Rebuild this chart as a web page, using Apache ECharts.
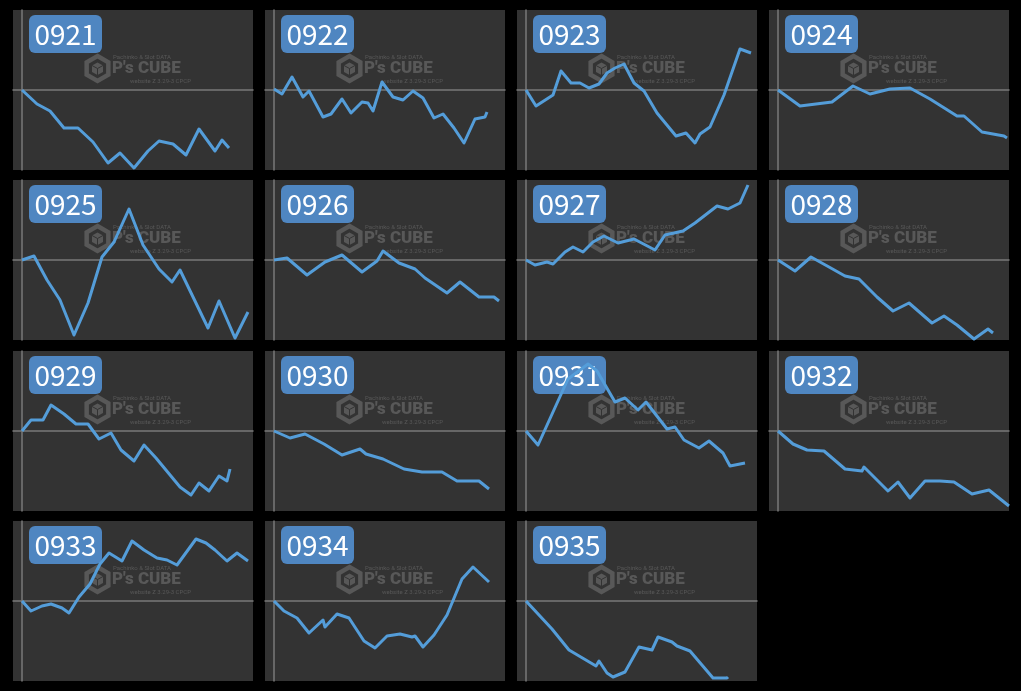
<!DOCTYPE html>
<html>
<head>
<meta charset="utf-8">
<script src="https://cdn.jsdelivr.net/npm/echarts@6/dist/echarts.min.js"></script>
<style>
html,body{margin:0;padding:0;background:#000;}
#chart{width:1021px;height:691px;}
</style>
</head>
<body>
<div id="chart"></div>
<script>
// Machine numbers (panel titles)
const machines = ['0921','0922','0923','0924','0925','0926','0927','0928','0929','0930','0931','0932','0933','0934','0935'];

// Series: [games (scaled), coin difference (scaled)]
const s0921 = [[0,0],[15,-14],[28,-21],[42,-38],[56,-38],[71,-52],[86,-73],[98,-63],[112,-78],[126,-61],[137,-51],[151,-54],[164,-65],[177,-39],[193,-61],[200,-50],[207,-58]];
const s0922 = [[0,1],[8,-4],[18,13],[29,-7],[35,-1],[49,-27],[57,-24],[68,-9],[77,-23],[88,-12],[94,-13],[99,-21],[108,8],[119,-7],[129,-10],[139,-1],[149,-8],[160,-28],[169,-24],[180,-38],[190,-53],[201,-29],[211,-27],[213,-22]];
const s0923 = [[0,0],[10,-16],[27,-5],[35,19],[45,7],[54,7],[63,2],[73,6],[81,17],[89,22],[98,26],[108,7],[118,-1],[131,-23],[150,-46],[160,-43],[169,-53],[174,-44],[184,-37],[198,-5],[206,18],[214,41],[225,37]];
const s0924 = [[0,0],[22,-16],[46,-13],[54,-12],[75,4],[92,-4],[112,1],[132,2],[152,-9],[179,-26],[186,-26],[204,-42],[226,-46],[229,-48]];
const s0925 = [[0,0],[12,4],[25,-20],[38,-40],[52,-75],[66,-43],[80,3],[92,18],[107,51],[121,15],[137,-9],[150,-22],[158,-10],[186,-68],[197,-41],[213,-78],[226,-52]];
const s0926 = [[0,0],[13,2],[33,-15],[51,-2],[68,5],[88,-12],[103,-1],[109,9],[125,-3],[141,-9],[151,-18],[173,-33],[186,-22],[205,-37],[220,-37],[225,-41]];
const s0927 = [[0,0],[9,-5],[21,-2],[27,-4],[39,8],[47,13],[57,8],[67,18],[78,24],[92,17],[108,21],[129,10],[139,25],[157,29],[169,37],[191,54],[202,51],[214,57],[222,75]];
const s0928 = [[0,0],[17,-11],[33,3],[51,-7],[67,-16],[81,-19],[99,-37],[115,-51],[131,-43],[154,-63],[166,-56],[179,-65],[196,-79],[210,-69],[215,-73]];
const s0929 = [[0,0],[9,11],[21,11],[29,26],[42,17],[54,7],[66,7],[77,-8],[89,-2],[99,-19],[112,-30],[122,-14],[134,-27],[158,-56],[169,-64],[177,-52],[187,-60],[197,-45],[205,-50],[208,-38]];
const s0930 = [[0,0],[16,-7],[31,-3],[50,-13],[68,-24],[86,-18],[92,-23],[109,-28],[130,-38],[148,-41],[168,-41],[183,-50],[205,-50],[215,-58]];
const s0931 = [[0,0],[12,-14],[42,52],[62,67],[71,60],[89,29],[99,33],[112,21],[120,29],[141,2],[149,4],[158,-9],[173,-17],[183,-10],[197,-22],[204,-35],[219,-32]];
const s0932 = [[0,0],[15,-13],[29,-19],[46,-20],[67,-38],[84,-40],[86,-36],[110,-60],[120,-51],[132,-67],[147,-50],[162,-50],[176,-51],[194,-63],[211,-59],[231,-75]];
const s0933 = [[0,0],[9,-10],[20,-5],[29,-3],[40,-7],[47,-12],[57,4],[68,17],[78,37],[87,48],[100,40],[110,60],[122,51],[135,43],[145,41],[155,36],[174,62],[184,58],[193,51],[205,40],[215,48],[226,40]];
const s0934 = [[0,0],[10,-10],[23,-17],[35,-32],[49,-19],[51,-26],[63,-13],[75,-17],[90,-40],[101,-47],[113,-35],[126,-33],[138,-36],[141,-35],[149,-46],[160,-34],[173,-14],[188,22],[199,34],[215,19]];
const s0935 = [[0,0],[26,-28],[43,-49],[70,-65],[73,-60],[81,-72],[87,-76],[99,-71],[113,-46],[126,-49],[132,-36],[146,-41],[151,-45],[164,-50],[187,-77],[201,-77],[202,-76]];

const seriesData = [s0921,s0922,s0923,s0924,s0925,s0926,s0927,s0928,s0929,s0930,s0931,s0932,s0933,s0934,s0935];

const xRange = [-9, 231];
const yRange = [-80, 80];

const colLefts = [13, 265, 517, 769];
const rowTops = [10, 180, 351, 521];
const panelW = 240, panelH = 160;

const grids = [], xAxes = [], yAxes = [], series = [], graphics = [];
const wmColor = '#585858';

machines.forEach((name, i) => {
  const left = colLefts[i % 4];
  const top = rowTops[Math.floor(i / 4)];
  grids.push({left: left, top: top, width: panelW, height: panelH, containLabel: false});
  xAxes.push({
    type: 'value', gridIndex: i, min: xRange[0], max: xRange[1], z: 2,
    axisLine: {show: true, onZero: true, lineStyle: {color: '#7a7a7a', width: 1.5}},
    axisTick: {show: false}, axisLabel: {show: false}, splitLine: {show: false}
  });
  yAxes.push({
    type: 'value', gridIndex: i, min: yRange[0], max: yRange[1], z: 2,
    axisLine: {show: true, onZero: true, lineStyle: {color: '#7a7a7a', width: 1.5}},
    axisTick: {show: false}, axisLabel: {show: false}, splitLine: {show: false}
  });
  series.push({
    type: 'line', xAxisIndex: i, yAxisIndex: i, data: seriesData[i],
    showSymbol: false, symbol: 'none', smooth: false, z: 5,
    lineStyle: {color: '#549dd9', width: 3, join: 'round'},
    animation: false
  });
  // panel background
  graphics.push({type: 'rect', left: left, top: top, z: 0, silent: true,
    shape: {width: panelW, height: panelH}, style: {fill: '#333333'}});
  // watermark
  const wx = left + 72, wy = top + 44;
  const cx = 12.5, cy = 14.5, r = 12.5;
  const hex = [];
  for (let k = 0; k < 6; k++) {
    const a = Math.PI / 180 * (60 * k - 90);
    hex.push([cx + r * Math.cos(a), cy + r * Math.sin(a)]);
  }
  graphics.push({type: 'group', x: wx, y: wy, z: 1, silent: true, children: [
    {type: 'polygon', z: 1, shape: {points: hex}, style: {fill: 'none', stroke: wmColor, lineWidth: 4.5}},
    {type: 'polygon', z: 1, shape: {points: [[cx, cy - 6], [cx + 5.5, cy - 3], [cx + 5.5, cy + 3.5], [cx, cy + 6.5], [cx - 5.5, cy + 3.5], [cx - 5.5, cy - 3]]}, style: {fill: wmColor}},
    {type: 'polyline', z: 1, shape: {points: [[cx - 5.5, cy - 3], [cx, cy], [cx + 5.5, cy - 3]]}, style: {stroke: '#333', lineWidth: 1}},
    {type: 'line', z: 1, shape: {x1: cx, y1: cy, x2: cx, y2: cy + 6.5}, style: {stroke: '#333', lineWidth: 1}},
    {type: 'text', z: 1, x: 27, y: 6, style: {text: "P's CUBE", fill: wmColor, font: '900 17px Roboto'}},
    {type: 'text', z: 1, x: 28, y: 0, style: {text: 'Pachinko & Slot DATA', fill: wmColor, font: '6px Roboto'}},
    {type: 'text', z: 1, x: 45, y: 24, style: {text: 'website Z 3.29-3 CPCP', fill: wmColor, font: '6px Roboto'}}
  ]});
  // label
  graphics.push({type: 'group', x: left + 16, y: top + 5, z: 1, silent: true, children: [
    {type: 'rect', z: 1, shape: {width: 73, height: 38, r: 6}, style: {fill: '#4f86c1'}},
    {type: 'text', z: 1, x: 36.5, y: 19.5, style: {text: name, fill: '#ffffff', font: '28px "Noto Sans CJK JP"', align: 'center', verticalAlign: 'middle'}}
  ]});
});

const chart = echarts.init(document.getElementById('chart'));
chart.setOption({
  backgroundColor: '#000000',
  animation: false,
  grid: grids,
  xAxis: xAxes,
  yAxis: yAxes,
  series: series,
  graphic: {elements: graphics}
});
</script>
</body>
</html>
